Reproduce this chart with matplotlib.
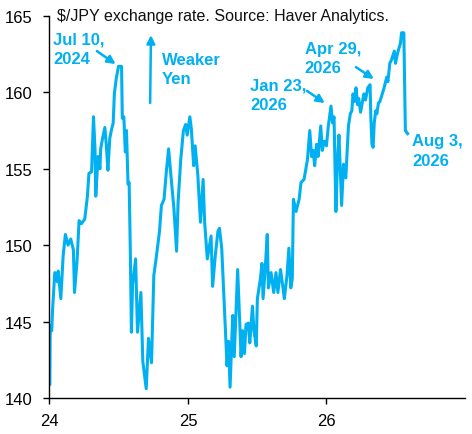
import matplotlib
matplotlib.use("Agg")
import matplotlib.pyplot as plt
import matplotlib.dates as mdates
import pandas as pd

BLUE = "#00B0F0"

# $/JPY readings
dates_2024 = ["2024-01-03", "2024-01-04", "2024-01-08", "2024-01-10", "2024-01-16", "2024-01-23",
              "2024-01-25", "2024-02-01", "2024-02-07", "2024-02-13", "2024-02-20", "2024-02-27",
              "2024-03-05", "2024-03-08", "2024-03-15", "2024-03-20", "2024-03-26", "2024-04-04",
              "2024-04-11", "2024-04-15", "2024-04-22", "2024-04-27", "2024-05-01", "2024-05-03",
              "2024-05-09", "2024-05-14", "2024-05-16", "2024-05-21", "2024-05-27", "2024-05-31",
              "2024-06-04", "2024-06-09", "2024-06-13", "2024-06-18", "2024-06-21", "2024-06-26",
              "2024-07-02", "2024-07-10", "2024-07-12", "2024-07-16", "2024-07-20", "2024-07-23",
              "2024-07-27", "2024-07-30", "2024-08-02", "2024-08-05", "2024-08-08",
              "2024-08-16", "2024-08-21", "2024-08-30", "2024-09-04", "2024-09-13", "2024-09-19",
              "2024-09-27", "2024-10-03", "2024-10-10", "2024-10-18", "2024-10-23", "2024-10-30",
              "2024-11-05", "2024-11-11", "2024-11-18", "2024-11-25", "2024-12-02", "2024-12-06",
              "2024-12-13", "2024-12-20", "2024-12-26", "2024-12-30"]
jpy_2024 = [140.9, 144.7, 144.4, 145.7, 148.2, 147.6,
            148.3, 146.5, 149.3, 150.7, 150.0, 150.4,
            149.7, 146.9, 149.1, 151.6, 151.4, 151.7,
            153.2, 154.7, 154.8, 158.4, 156.3, 153.2,
            155.8, 155.0, 156.3, 157.0, 157.7, 156.5,
            154.9, 157.0, 157.5, 158.0, 159.9, 160.9,
            161.7, 161.7, 158.3, 158.4, 156.1, 157.5,
            154.0, 154.1, 149.8, 144.3, 147.4,
            149.1, 144.3, 146.9, 142.4, 140.6, 143.9,
            142.3, 148.0, 149.3, 150.9, 152.6, 153.0,
            154.8, 156.3, 154.3, 152.4, 149.6, 152.8,
            155.6, 157.5, 157.9, 157.2]

dates_2025 = ["2025-01-06", "2025-01-10", "2025-01-16", "2025-01-20", "2025-01-27", "2025-02-03",
              "2025-02-10", "2025-02-14", "2025-02-21", "2025-03-03", "2025-03-07", "2025-03-14",
              "2025-03-21", "2025-03-25", "2025-03-31", "2025-04-07", "2025-04-14", "2025-04-18",
              "2025-04-22", "2025-04-29", "2025-05-03", "2025-05-12", "2025-05-16", "2025-05-21",
              "2025-05-25", "2025-05-30", "2025-06-03", "2025-06-09", "2025-06-13", "2025-06-20",
              "2025-06-24", "2025-06-30", "2025-07-03", "2025-07-11", "2025-07-15", "2025-07-18",
              "2025-07-24", "2025-07-29", "2025-08-01", "2025-08-08", "2025-08-15", "2025-08-21",
              "2025-08-26", "2025-09-02", "2025-09-08", "2025-09-12", "2025-09-19", "2025-09-24",
              "2025-09-29", "2025-10-03", "2025-10-06", "2025-10-13", "2025-10-21", "2025-10-26",
              "2025-11-03", "2025-11-08", "2025-11-12", "2025-11-18", "2025-11-23", "2025-11-27",
              "2025-12-01", "2025-12-06", "2025-12-10", "2025-12-17", "2025-12-21", "2025-12-26"]
jpy_2025 = [158.4, 157.6, 155.2, 156.5, 154.6, 151.5,
            154.3, 151.5, 149.1, 150.6, 147.3, 149.3,
            150.9, 151.1, 149.8, 146.0, 142.1, 143.7,
            140.7, 145.4, 142.7, 148.4, 145.8, 142.7,
            144.4, 142.9, 144.8, 144.9, 143.6, 146.0,
            144.4, 143.4, 146.5, 147.8, 148.8, 146.5,
            148.6, 150.7, 147.2, 148.2, 146.9, 148.2,
            146.9, 148.4, 147.3, 146.5, 148.0, 149.8,
            147.2, 147.8, 153.0, 152.2, 153.0, 154.1,
            154.3, 155.0, 155.6, 157.5, 155.8, 156.2,
            155.2, 156.6, 155.8, 157.8, 156.2, 156.8]

dates_2026 = ["2026-01-01", "2026-01-06", "2026-01-13", "2026-01-17", "2026-01-21",
              "2026-01-26", "2026-01-30", "2026-02-03", "2026-02-10", "2026-02-15",
              "2026-02-21", "2026-02-28", "2026-03-05", "2026-03-09",
              "2026-03-12", "2026-03-16", "2026-03-20", "2026-03-24", "2026-03-27", "2026-04-01",
              "2026-04-06", "2026-04-10", "2026-04-14", "2026-04-20", "2026-04-26", "2026-04-28",
              "2026-05-01", "2026-05-04", "2026-05-07", "2026-05-11", "2026-05-14", "2026-05-18",
              "2026-05-22", "2026-05-27", "2026-06-02", "2026-06-05", "2026-06-09", "2026-06-12",
              "2026-06-17", "2026-06-21", "2026-06-25", "2026-06-29", "2026-07-02", "2026-07-06",
              "2026-07-10", "2026-07-15", "2026-07-18", "2026-07-24", "2026-07-28", "2026-08-03"]
jpy_2026 = [156.5, 157.8, 159.1, 158.0, 158.4,
            152.2, 155.5, 157.2, 152.6, 155.3,
            154.4, 157.8, 158.6, 158.8,
            159.9, 159.4, 160.3, 159.2, 159.6, 158.7,
            159.4, 159.9, 159.5, 160.3, 160.5, 158.4,
            156.6, 156.4, 158.0, 158.8, 158.6, 159.3,
            159.4, 159.8, 160.3, 160.6, 161.0, 160.7,
            161.9, 162.1, 162.4, 162.7, 161.9, 162.4,
            162.8, 163.2, 163.9, 163.9, 157.5, 157.3]

year_ticks = ["2024-01-01", "2025-01-01", "2026-01-01"]
y_ticks = [140, 145, 150, 155, 160, 165]

dates = pd.to_datetime(dates_2024 + dates_2025 + dates_2026)
jpy = jpy_2024 + jpy_2025 + jpy_2026

plt.rcParams["font.family"] = ["Liberation Sans", "DejaVu Sans"]

fig = plt.figure(figsize=(4.72, 4.35), dpi=100)
ax = fig.add_axes([0.104, 0.083, 0.881, 0.878])

ax.plot(dates, jpy, color=BLUE, lw=2.2, solid_joinstyle="round")

ax.set_xlim(pd.Timestamp("2024-01-01"), pd.Timestamp("2027-01-01"))
ax.set_ylim(140, 165)
ax.set_xticks(pd.to_datetime(year_ticks))
ax.xaxis.set_major_formatter(mdates.DateFormatter("%y"))
ax.set_yticks(y_ticks)
ax.tick_params(axis="both", labelsize=12, direction="out", length=4, width=1, color="black")
ax.tick_params(axis="x", pad=7)
ax.tick_params(axis="y", pad=8)
for side in ["top", "right"]:
    ax.spines[side].set_visible(False)
for side in ["left", "bottom"]:
    ax.spines[side].set_linewidth(1)

ax.text(0.019, 1.0, "$/JPY exchange rate. Source: Haver Analytics.", transform=ax.transAxes,
        ha="left", va="center", fontsize=11.5, color="#111111")

note = dict(transform=ax.transAxes, ha="left", va="center", fontsize=12,
            fontweight="bold", color=BLUE, linespacing=1.4)
arrow = dict(arrowstyle="-|>", color=BLUE, lw=1.8, mutation_scale=12, shrinkA=0, shrinkB=0)

ax.text(0.01, 0.914, "Jul 10,\n2024", **note)
ax.annotate("", xy=(0.160, 0.874), xytext=(0.115, 0.908), xycoords="axes fraction",
            textcoords="axes fraction", arrowprops=arrow)

ax.annotate("", xy=(0.245, 0.950), xytext=(0.243, 0.772), xycoords="axes fraction",
            textcoords="axes fraction", arrowprops=arrow)
ax.text(0.272, 0.861, "Weaker\nYen", **note)

ax.text(0.483, 0.793, "Jan 23,\n2026", **note)
ax.annotate("", xy=(0.663, 0.772), xytext=(0.620, 0.804), xycoords="axes fraction",
            textcoords="axes fraction", arrowprops=arrow)

ax.text(0.615, 0.890, "Apr 29,\n2026", **note)
ax.annotate("", xy=(0.781, 0.835), xytext=(0.738, 0.866), xycoords="axes fraction",
            textcoords="axes fraction", arrowprops=arrow)

ax.text(0.873, 0.647, "Aug 3,\n2026", **note)

fig.savefig("out.png", dpi=100)
